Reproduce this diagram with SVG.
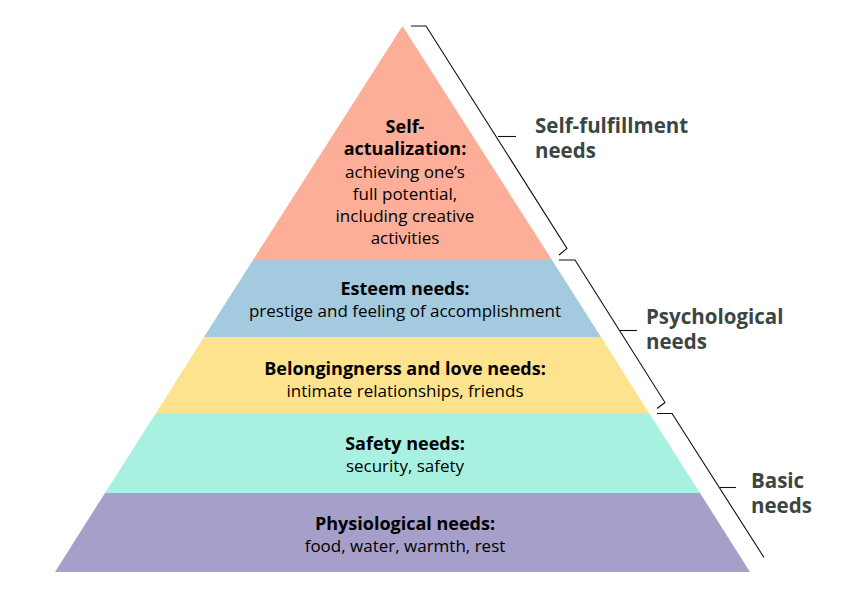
<svg xmlns="http://www.w3.org/2000/svg" width="866" height="601" viewBox="0 0 866 601">
<style>
.b{font-family:"Open Sans","Liberation Sans",sans-serif;font-weight:700;font-size:18px;fill:#000;text-anchor:middle}
.r{font-family:"Open Sans","Liberation Sans",sans-serif;font-weight:400;font-size:17px;fill:#000;text-anchor:middle}
.g{font-family:"Open Sans","Liberation Sans",sans-serif;font-weight:700;font-size:20.5px;fill:#3b4643}
.br{fill:none;stroke:#111;stroke-width:1.1}
</style>
<rect width="866" height="601" fill="#fff"/>
<g id="self-actualization">
<polygon points="402.5,26 552,260 253,260" fill="#fcae98"/>
<text class="b" x="405" y="133">Self-</text>
<text class="b" x="405" y="155">actualization:</text>
<text class="r" x="405" y="178">achieving one’s</text>
<text class="r" x="405" y="200">full potential,</text>
<text class="r" x="405" y="222">including creative</text>
<text class="r" x="405" y="244">activities</text>
</g>
<g id="esteem">
<polygon points="253,260 552,260 601,337 204,337" fill="#a4cadf"/>
<text class="b" x="405" y="295">Esteem needs:</text>
<text class="r" x="405" y="317">prestige and feeling of accomplishment</text>
</g>
<g id="belonging">
<polygon points="204,337 601,337 649,413 156,413" fill="#fde38e"/>
<text class="b" x="405" y="375">Belongingnerss and love needs:</text>
<text class="r" x="405" y="397">intimate relationships, friends</text>
</g>
<g id="safety">
<polygon points="156,413 649,413 700,493 105,493" fill="#a8f0e0"/>
<text class="b" x="405" y="450">Safety needs:</text>
<text class="r" x="405" y="472">security, safety</text>
</g>
<g id="physiological">
<polygon points="105,493 700,493 750,572 55,572" fill="#a59fca"/>
<text class="b" x="405" y="530">Physiological needs:</text>
<text class="r" x="405" y="552">food, water, warmth, rest</text>
</g>
<g id="connectors">
<polyline class="br" points="411,26 426,26 567,248.5 559,255"/>
<line class="br" x1="498" y1="136.5" x2="516" y2="136.5"/>
<polyline class="br" points="559,260 575,260 665,402.5 657,408.5"/>
<line class="br" x1="620" y1="330.5" x2="637" y2="330.5"/>
<polyline class="br" points="657,413.5 672,413.5 764,557.5"/>
<line class="br" x1="720" y1="487.5" x2="736" y2="487.5"/>
</g>
<g id="labels">
<text class="g" x="535" y="132.5">Self-fulfillment</text>
<text class="g" x="535" y="158">needs</text>
<text class="g" x="646" y="323.5">Psychological</text>
<text class="g" x="646" y="349">needs</text>
<text class="g" x="751" y="487.5">Basic</text>
<text class="g" x="751" y="513">needs</text>
</g>
</svg>
